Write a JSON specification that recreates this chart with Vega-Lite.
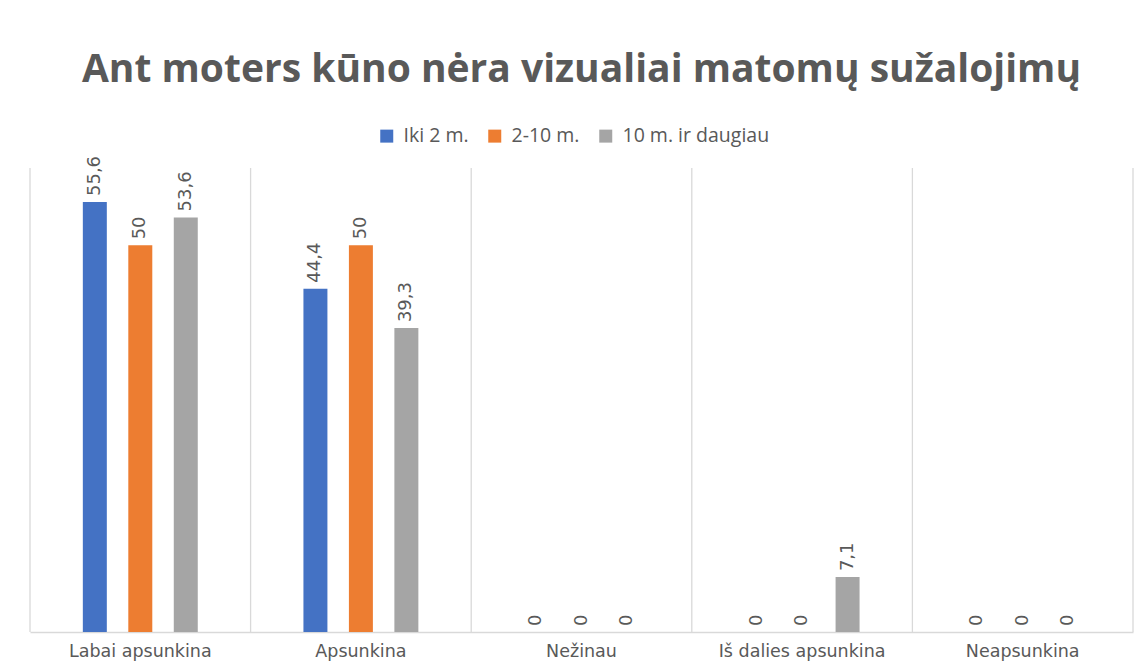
{
  "$schema": "https://vega.github.io/schema/vega-lite/v6.json",
  "width": 1103,
  "height": 464,
  "autosize": {"type": "none"},
  "padding": {"left": 30, "top": 168, "right": 11, "bottom": 38},
  "background": "white",
  "title": {
    "text": "Ant moters kūno nėra vizualiai matomų sužalojimų",
    "font": "Open Sans",
    "fontSize": 39,
    "fontWeight": "bold",
    "color": "#595959",
    "anchor": "middle",
    "baseline": "alphabetic",
    "offset": 5
  },
  "config": {
    "locale": {"number": {"decimal": ",", "thousands": " ", "grouping": [3], "currency": ["", " €"]}},
    "view": {"stroke": null},
    "font": "Open Sans"
  },
  "datasets": {
    "vals": [
      {"cat": "Labai apsunkina", "series": "Iki 2 m.", "value": 55.6},
      {"cat": "Labai apsunkina", "series": "2-10 m.", "value": 50},
      {"cat": "Labai apsunkina", "series": "10 m. ir daugiau", "value": 53.6},
      {"cat": "Apsunkina", "series": "Iki 2 m.", "value": 44.4},
      {"cat": "Apsunkina", "series": "2-10 m.", "value": 50},
      {"cat": "Apsunkina", "series": "10 m. ir daugiau", "value": 39.3},
      {"cat": "Nežinau", "series": "Iki 2 m.", "value": 0},
      {"cat": "Nežinau", "series": "2-10 m.", "value": 0},
      {"cat": "Nežinau", "series": "10 m. ir daugiau", "value": 0},
      {"cat": "Iš dalies apsunkina", "series": "Iki 2 m.", "value": 0},
      {"cat": "Iš dalies apsunkina", "series": "2-10 m.", "value": 0},
      {"cat": "Iš dalies apsunkina", "series": "10 m. ir daugiau", "value": 7.1},
      {"cat": "Neapsunkina", "series": "Iki 2 m.", "value": 0},
      {"cat": "Neapsunkina", "series": "2-10 m.", "value": 0},
      {"cat": "Neapsunkina", "series": "10 m. ir daugiau", "value": 0}
    ],
    "cats": [
      {"cat": "Labai apsunkina"},
      {"cat": "Apsunkina"},
      {"cat": "Nežinau"},
      {"cat": "Iš dalies apsunkina"},
      {"cat": "Neapsunkina"}
    ]
  },
  "resolve": {"scale": {"x": "independent"}, "axis": {"x": "independent"}},
  "layer": [
    {
      "layer": [
        {
          "data": {"name": "cats"},
          "mark": {"type": "rule", "color": "#d9d9d9", "strokeWidth": 1.3},
          "encoding": {
            "x": {"field": "cat", "type": "nominal", "bandPosition": 0,
                  "scale": {"domain": ["Labai apsunkina", "Apsunkina", "Nežinau", "Iš dalies apsunkina", "Neapsunkina"], "paddingInner": 0, "paddingOuter": 0},
                  "axis": {"title": null, "labelAngle": 0, "ticks": false, "domainColor": "#d9d9d9", "domainWidth": 1.5, "labelColor": "#595959", "labelFontSize": 17.5, "labelFont": "DejaVu Sans", "labelPadding": 10}},
            "y": {"datum": 0, "type": "quantitative", "scale": {"domain": [0, 60]}, "axis": null},
            "y2": {"datum": 60}
          }
        },
        {
          "data": {"name": "cats"},
          "transform": [{"filter": "datum.cat === 'Neapsunkina'"}],
          "mark": {"type": "rule", "color": "#d9d9d9", "strokeWidth": 1.3},
          "encoding": {
            "x": {"field": "cat", "type": "nominal", "bandPosition": 1},
            "y": {"datum": 0, "type": "quantitative"},
            "y2": {"datum": 60}
          }
        }
      ]
    },
    {
      "layer": [
        {
          "data": {"name": "vals"},
          "mark": {"type": "bar"},
          "encoding": {
            "x": {"field": "cat", "type": "nominal",
                  "scale": {"domain": ["Labai apsunkina", "Apsunkina", "Nežinau", "Iš dalies apsunkina", "Neapsunkina"], "paddingInner": 0.479, "paddingOuter": 0.2395},
                  "axis": null},
            "xOffset": {"field": "series", "type": "nominal", "sort": ["Iki 2 m.", "2-10 m.", "10 m. ir daugiau"], "scale": {"paddingInner": 0.4725, "paddingOuter": 0}},
            "y": {"field": "value", "type": "quantitative", "scale": {"domain": [0, 60]}, "axis": null},
            "color": {"field": "series", "type": "nominal", "sort": ["Iki 2 m.", "2-10 m.", "10 m. ir daugiau"],
                      "scale": {"domain": ["Iki 2 m.", "2-10 m.", "10 m. ir daugiau"], "range": ["#4472C4", "#ED7D31", "#A5A5A5"]},
                      "legend": {"title": null, "orient": "none", "direction": "horizontal", "legendX": 347, "legendY": -42,
                                 "symbolType": "square", "symbolSize": 169, "symbolStrokeWidth": 0, "labelFontSize": 19.5, "labelColor": "#595959", "labelFont": "Open Sans", "columnPadding": 16, "labelOffset": 7}}
          }
        },
        {
          "data": {"name": "vals"},
          "mark": {"type": "text", "angle": 270, "align": "left", "baseline": "middle", "dx": 6, "fontSize": 18, "color": "#595959", "font": "DejaVu Sans"},
          "encoding": {
            "x": {"field": "cat", "type": "nominal"},
            "xOffset": {"field": "series", "type": "nominal", "sort": ["Iki 2 m.", "2-10 m.", "10 m. ir daugiau"]},
            "y": {"field": "value", "type": "quantitative"},
            "text": {"field": "value", "type": "quantitative", "format": ".1~f"}
          }
        }
      ]
    }
  ]
}
